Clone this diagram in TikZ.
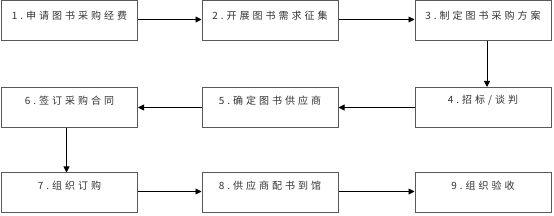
\documentclass[tikz,border=0pt]{standalone}
\usepackage{fontspec}
\newfontfamily\cjk[LetterSpace=30]{Noto Sans CJK SC}
\usetikzlibrary{arrows.meta}
\tikzset{
  stepbox/.style={draw=black!65, line width=1pt, minimum width=136pt, minimum height=40pt, inner sep=0pt, anchor=north west},
  steptext/.style={font=\cjk\fontsize{10pt}{12pt}\selectfont, text=black!80, inner sep=0pt, anchor=center},
  flow/.style={draw=black, line width=0.9pt, -{Triangle[length=6pt,width=6pt]}}
}
\begin{document}
\begin{tikzpicture}[x=1pt,y=-1pt]
\useasboundingbox (0,0) rectangle (554,216);
\fill[white] (0,0) rectangle (554,216);
% row 1
\node[stepbox] (b1) at (1,0.5) {};
\node[stepbox] (b2) at (201.5,0.5) {};
\node[stepbox] (b3) at (414.5,0.5) {};
% row 2
\node[stepbox] (b6) at (1,87) {};
\node[stepbox] (b5) at (201.5,87) {};
\node[stepbox] (b4) at (414.5,87) {};
% row 3
\node[stepbox] (b7) at (1,172.5) {};
\node[stepbox] (b8) at (201.5,172.5) {};
\node[stepbox] (b9) at (414.5,172.5) {};
% texts
\node[steptext] (t1) at ([yshift=-15pt]b1.north) {1.申请图书采购经费};
\node[steptext] (t2) at ([yshift=-15pt]b2.north) {2.开展图书需求征集};
\node[steptext] (t3) at ([yshift=-15pt]b3.north) {3.制定图书采购方案};
\node[steptext] (t4) at ([yshift=-13.5pt]b4.north) {4.招标/谈判};
\node[steptext] (t5) at ([yshift=-13.5pt]b5.north) {5.确定图书供应商};
\node[steptext] (t6) at ([yshift=-13.5pt]b6.north) {6.签订采购合同};
\node[steptext] (t7) at ([yshift=-13.5pt]b7.north) {7.组织订购};
\node[steptext] (t8) at ([yshift=-13.5pt]b8.north) {8.供应商配书到馆};
\node[steptext] (t9) at ([yshift=-13.5pt]b9.north) {9.组织验收};
% connectors
\draw[flow] ([yshift=1.5pt]b1.east) -- ([yshift=1.5pt]b2.west);
\draw[flow] ([yshift=1.5pt]b2.east) -- ([yshift=1.5pt]b3.west);
\draw[flow] ([xshift=4pt]b3.south) -- ([xshift=4pt]b4.north);
\draw[flow] (b4.west) -- (b5.east);
\draw[flow] (b5.west) -- (b6.east);
\draw[flow] ([xshift=-3pt]b6.south) -- ([xshift=-3pt]b7.north);
\draw[flow] ([yshift=1.5pt]b7.east) -- ([yshift=1.5pt]b8.west);
\draw[flow] ([yshift=1.5pt]b8.east) -- ([yshift=1.5pt]b9.west);
\end{tikzpicture}
\end{document}
